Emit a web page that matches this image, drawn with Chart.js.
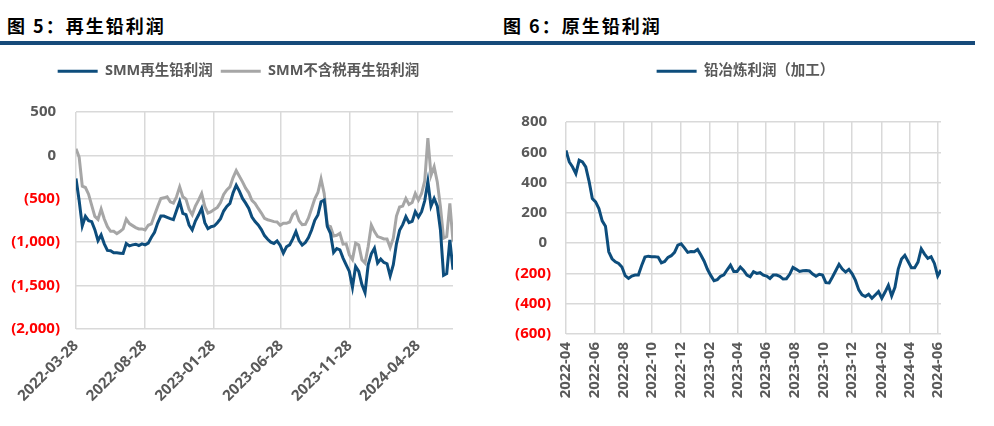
<!DOCTYPE html>
<html>
<head>
<meta charset="utf-8">
<script src="https://cdn.jsdelivr.net/npm/chart.js@4.4.1/dist/chart.umd.min.js"></script>
<style>
  body { margin: 0; background: #fff; width: 994px; height: 426px; position: relative; overflow: hidden; }
  .title { position: absolute; top: 12px; font: bold 18px "Noto Sans CJK SC", sans-serif; letter-spacing: 2px; color: #000; }
  .rule { position: absolute; left: 0; top: 41px; width: 975px; height: 4px; background: #164a7a; }
  .wrap { position: absolute; top: 50px; }
</style>
</head>
<body>
<div class="title" style="left:7px">图 5：再生铅利润</div>
<div class="title" style="left:503px">图 6：原生铅利润</div>
<div class="rule"></div>
<div class="wrap" style="left:0"><canvas id="c1" width="480" height="376"></canvas></div>
<div class="wrap" style="left:500px"><canvas id="c2" width="494" height="376"></canvas></div>
<script>
// 图5 数据：每周取值（周一）
var leftDates = [
  "2022-03-28","2022-04-04","2022-04-11","2022-04-18","2022-04-25","2022-05-02","2022-05-09","2022-05-16","2022-05-23","2022-05-30",
  "2022-06-06","2022-06-13","2022-06-20","2022-06-27","2022-07-04","2022-07-11","2022-07-18","2022-07-25","2022-08-01","2022-08-08",
  "2022-08-15","2022-08-22","2022-08-29","2022-09-05","2022-09-12","2022-09-19","2022-09-26","2022-10-03","2022-10-10","2022-10-17",
  "2022-10-24","2022-10-31","2022-11-07","2022-11-14","2022-11-21","2022-11-28","2022-12-05","2022-12-12","2022-12-19","2022-12-26",
  "2023-01-02","2023-01-09","2023-01-16","2023-01-23","2023-01-30","2023-02-06","2023-02-13","2023-02-20","2023-02-27","2023-03-06",
  "2023-03-13","2023-03-20","2023-03-27","2023-04-03","2023-04-10","2023-04-17","2023-04-24","2023-05-01","2023-05-08","2023-05-15",
  "2023-05-22","2023-05-29","2023-06-05","2023-06-12","2023-06-19","2023-06-26","2023-07-03","2023-07-10","2023-07-17","2023-07-24",
  "2023-07-31","2023-08-07","2023-08-14","2023-08-21","2023-08-28","2023-09-04","2023-09-11","2023-09-18","2023-09-25","2023-10-02",
  "2023-10-09","2023-10-16","2023-10-23","2023-10-30","2023-11-06","2023-11-13","2023-11-20","2023-11-27","2023-12-04","2023-12-11",
  "2023-12-18","2023-12-25","2024-01-01","2024-01-08","2024-01-15","2024-01-22","2024-01-29","2024-02-05","2024-02-12","2024-02-19",
  "2024-02-26","2024-03-04","2024-03-11","2024-03-18","2024-03-25","2024-04-01","2024-04-08","2024-04-15","2024-04-22","2024-04-29",
  "2024-05-06","2024-05-13","2024-05-20","2024-05-27","2024-06-03","2024-06-10","2024-06-17","2024-06-24","2024-07-01","2024-07-08",
  "2024-07-15"
];
var smmProfit = [
  -267, -520, -813, -702, -752, -763, -855, -981, -916, -1019,
  -1095, -1099, -1122, -1122, -1126, -1130, -1015, -1042, -1031, -1023,
  -1038, -1019, -1031, -1011, -943, -886, -779, -699, -699, -714,
  -729, -741, -634, -531, -668, -683, -802, -859, -756, -687,
  -611, -775, -844, -821, -813, -775, -729, -641, -588, -553,
  -431, -344, -412, -496, -550, -611, -710, -763, -802, -855,
  -924, -966, -1000, -1015, -985, -1038, -1126, -1053, -1031, -962,
  -878, -981, -1034, -1004, -947, -859, -748, -687, -534, -515,
  -821, -897, -1118, -1073, -1088, -1183, -1260, -1336, -1520, -1279,
  -1336, -1489, -1580, -1260, -1134, -1069, -1241, -1195, -1233, -1248,
  -1390, -1260, -1019, -863, -798, -706, -775, -760, -649, -710,
  -649, -523, -300, -584, -496, -584, -859, -1380, -1360, -973,
  -1317
];
var smmProfitNoTax = [
  76, -20, -355, -370, -447, -576, -702, -737, -618, -733,
  -821, -874, -874, -901, -878, -847, -733, -786, -809, -832,
  -847, -847, -859, -805, -790, -687, -588, -496, -489, -477,
  -534, -550, -477, -363, -477, -504, -622, -683, -584, -515,
  -439, -588, -664, -649, -622, -599, -542, -450, -397, -363,
  -256, -176, -240, -305, -378, -431, -519, -553, -611, -664,
  -725, -741, -752, -763, -767, -805, -782, -782, -767, -683,
  -649, -752, -798, -794, -721, -611, -500, -427, -270, -440,
  -805, -821, -928, -920, -897, -1023, -1019, -1145, -1200, -1011,
  -1031, -1202, -1240, -1050, -802, -878, -935, -947, -962, -962,
  -1060, -954, -699, -595, -584, -496, -565, -542, -439, -515,
  -439, -294, 200, -229, -130, -305, -592, -954, -935, -553,
  -992
];
var leftTickLabels = ["2022-03-28", "2022-08-28", "2023-01-28", "2023-06-28", "2023-11-28", "2024-04-28"];

// 图6 数据：每周取值（周五）
var rightDates = [
  "2022-04-01","2022-04-08","2022-04-15","2022-04-22","2022-04-29","2022-05-06","2022-05-13","2022-05-20","2022-05-27","2022-06-03",
  "2022-06-10","2022-06-17","2022-06-24","2022-07-01","2022-07-08","2022-07-15","2022-07-22","2022-07-29","2022-08-05","2022-08-12",
  "2022-08-19","2022-08-26","2022-09-02","2022-09-09","2022-09-16","2022-09-23","2022-09-30","2022-10-07","2022-10-14","2022-10-21",
  "2022-10-28","2022-11-04","2022-11-11","2022-11-18","2022-11-25","2022-12-02","2022-12-09","2022-12-16","2022-12-23","2022-12-30",
  "2023-01-06","2023-01-13","2023-01-20","2023-01-27","2023-02-03","2023-02-10","2023-02-17","2023-02-24","2023-03-03","2023-03-10",
  "2023-03-17","2023-03-24","2023-03-31","2023-04-07","2023-04-14","2023-04-21","2023-04-28","2023-05-05","2023-05-12","2023-05-19",
  "2023-05-26","2023-06-02","2023-06-09","2023-06-16","2023-06-23","2023-06-30","2023-07-07","2023-07-14","2023-07-21","2023-07-28",
  "2023-08-04","2023-08-11","2023-08-18","2023-08-25","2023-09-01","2023-09-08","2023-09-15","2023-09-22","2023-09-29","2023-10-06",
  "2023-10-13","2023-10-20","2023-10-27","2023-11-03","2023-11-10","2023-11-17","2023-11-24","2023-12-01","2023-12-08","2023-12-15",
  "2023-12-22","2023-12-29","2024-01-05","2024-01-12","2024-01-19","2024-01-26","2024-02-02","2024-02-09","2024-02-16","2024-02-23",
  "2024-03-01","2024-03-08","2024-03-15","2024-03-22","2024-03-29","2024-04-05","2024-04-12","2024-04-19","2024-04-26","2024-05-03",
  "2024-05-10","2024-05-17","2024-05-24","2024-05-31","2024-06-07"
];
var smeltProfit = [
  612, 536, 503, 459, 547, 536, 503, 410, 294, 272,
  228, 147, 112, -57, -103, -123, -134, -158, -215, -233,
  -217, -211, -211, -147, -92, -86, -90, -90, -92, -130,
  -121, -94, -83, -61, -13, -4, -31, -61, -55, -57,
  -42, -79, -119, -173, -213, -248, -241, -219, -209, -176,
  -145, -187, -187, -158, -180, -211, -222, -189, -200, -195,
  -211, -217, -233, -211, -211, -219, -237, -235, -206, -160,
  -173, -187, -182, -180, -184, -204, -219, -206, -211, -261,
  -263, -224, -182, -140, -171, -191, -173, -202, -246, -309,
  -342, -353, -338, -364, -342, -320, -364, -323, -279, -349,
  -292, -171, -105, -81, -121, -162, -162, -125, -37, -72,
  -101, -90, -134, -217, -178
];
var rightTickLabels = ["2022-04", "2022-06", "2022-08", "2022-10", "2022-12", "2023-02", "2023-04",
  "2023-06", "2023-08", "2023-10", "2023-12", "2024-02", "2024-04", "2024-06"];

var FONT = '"Open Sans", "Noto Sans CJK SC", sans-serif';
var GRID = "#d9d9d9";
var BLUE = "#0d4d7c";
var GREY = "#a6a6a6";

// 负数用括号表示（红色），正数后留一个空格对齐
function fmtNum(v) {
  var s = Math.abs(v).toLocaleString("en-US");
  return v < 0 ? "(" + s + ")" : s + " ";
}
function tickColor(ctx) {
  return ctx.tick && ctx.tick.value < 0 ? "#ff0000" : "#595959";
}
function toPoints(dates, values) {
  return dates.map((d, i) => ({ x: Date.parse(d), y: values[i] }));
}

// 图例固定在画布顶部（绘图区下移后图例会跟着下移）
var legendTop = {
  id: "legendTop",
  afterLayout(chart) {
    var lg = chart.legend;
    var d = lg.top - 6;
    lg.top -= d;
    lg.bottom -= d;
  },
};

function makeChart(id, cfg) {
  return new Chart(document.getElementById(id).getContext("2d"), {
    type: "line",
    data: { datasets: cfg.datasets },
    plugins: [legendTop],
    options: {
      responsive: false,
      animation: false,
      layout: { padding: { top: 6, right: cfg.legendRight, bottom: 0, left: 0 } },
      elements: { point: { radius: 0 }, line: { tension: 0, borderWidth: 3 } },
      plugins: {
        tooltip: { enabled: false },
        legend: {
          position: "top",
          labels: {
            usePointStyle: true,
            pointStyle: "line",
            pointStyleWidth: 40,
            padding: 8,
            color: "#595959",
            font: { family: FONT, size: 14.5, weight: "bold" },
          },
        },
      },
      scales: {
        x: {
          type: "linear",
          min: cfg.xMin,
          max: cfg.xMax,
          afterBuildTicks: (s) => {
            s.ticks = cfg.tickLabels.map((t) => ({ value: cfg.tickValue(t) }));
          },
          afterFit: (s) => {
            s.height = cfg.xHeight;
            s.paddingRight = cfg.plotRight;
          },
          grid: { color: GRID, lineWidth: 1.5, drawTicks: false },
          border: { display: false },
          ticks: {
            autoSkip: false,
            minRotation: cfg.rotation,
            maxRotation: cfg.rotation,
            padding: cfg.xPad,
            color: "#595959",
            font: { family: FONT, size: 15, weight: "bold" },
            callback: (v) => {
              var idx = cfg.tickLabels.findIndex((t) => cfg.tickValue(t) === v);
              return idx >= 0 ? cfg.tickLabels[idx] : "";
            },
          },
        },
        y: {
          min: cfg.yMin,
          max: cfg.yMax,
          afterFit: (s) => {
            s.width = cfg.yWidth;
            s.paddingTop = cfg.plotTop;
          },
          grid: { color: GRID, lineWidth: 1.5, drawTicks: false },
          border: { display: false },
          ticks: {
            stepSize: cfg.yStep,
            padding: cfg.yPad,
            color: tickColor,
            font: { family: FONT, size: 15, weight: "bold" },
            callback: (v) => fmtNum(v),
          },
        },
      },
    },
  });
}

var chart1 = makeChart("c1", {
  datasets: [
    { label: "SMM再生铅利润", data: toPoints(leftDates, smmProfit), borderColor: BLUE, backgroundColor: BLUE, borderWidth: 3 },
    { label: "SMM不含税再生铅利润", data: toPoints(leftDates, smmProfitNoTax), borderColor: GREY, backgroundColor: GREY, borderWidth: 3 },
  ],
  legendRight: 3,
  plotTop: 62,
  plotRight: 27,
  xMin: Date.parse(leftDates[0]),
  xMax: Date.parse(leftDates[leftDates.length - 1]),
  tickLabels: leftTickLabels,
  tickValue: (t) => Date.parse(t),
  rotation: 45,
  xHeight: 97,
  xPad: 8,
  yMin: -2000, yMax: 500, yStep: 500,
  yWidth: 76, yPad: 16,
});

var chart2 = makeChart("c2", {
  datasets: [
    { label: "铅冶炼利润（加工）", data: toPoints(rightDates, smeltProfit), borderColor: BLUE, backgroundColor: BLUE, borderWidth: 3 },
  ],
  legendRight: 3,
  plotTop: 72,
  plotRight: 53,
  xMin: Date.parse(rightDates[0]),
  xMax: Date.parse(rightDates[rightDates.length - 1]),
  tickLabels: rightTickLabels,
  tickValue: (t) => Date.parse(t + "-01"),
  rotation: 90,
  xHeight: 92,
  xPad: 8,
  yMin: -600, yMax: 800, yStep: 200,
  yWidth: 66, yPad: 15,
});
</script>
</body>
</html>
